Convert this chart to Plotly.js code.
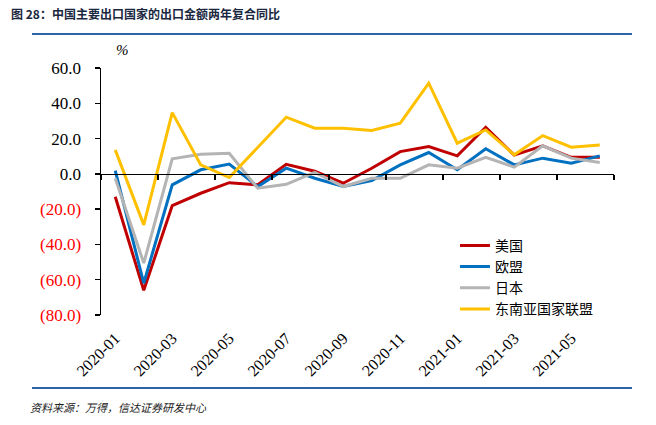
<!DOCTYPE html>
<html><head><meta charset="utf-8">
<script src="https://cdn.plot.ly/plotly-3.0.1.min.js"></script>
<style>html,body{margin:0;padding:0;background:#fff}</style>
</head><body><div id="chart" style="width:656px;height:425px"></div>
<script>
const months = ['2020-01','2020-02','2020-03','2020-04','2020-05','2020-06','2020-07','2020-08','2020-09','2020-10','2020-11','2020-12','2021-01','2021-02','2021-03','2021-04','2021-05','2021-06'];
const usa   = [-13.0,-66.0,-18.0,-11.0,-5.0,-6.2,5.4,1.5,-5.3,3.2,12.6,15.5,10.2,26.4,10.6,15.9,9.4,9.4];
const eu    = [1.9,-62.0,-6.2,2.3,5.5,-7.2,3.2,-2.5,-7.2,-3.8,5.1,12.1,2.3,14.2,5.1,8.9,6.0,10.2];
const japan = [-2.5,-50.6,8.5,11.1,11.7,-8.1,-5.9,0.8,-7.2,-2.5,-2.5,5.1,3.2,9.4,3.8,15.9,8.9,6.4];
const asean = [13.6,-28.9,34.7,5.1,-2.1,15.1,32.1,25.9,25.9,24.6,28.7,51.4,17.4,24.9,10.8,21.7,15.1,16.4];
const seriesNames = ['美国','欧盟','日本','东南亚国家联盟'];
const seriesColors = ['#C00000','#0070C0','#B4B4B4','#FFC000'];
const yTickVals = [60,40,20,0,-20,-40,-60,-80];
const yTickText = yTickVals.map(v => v < 0 ? '<span style="color:#FF0000">(' + Math.abs(v).toFixed(1) + ')</span>' : v.toFixed(1));
const boundaryTicks = [-0.5,1.5,3.5,5.5,7.5,9.5,11.5,13.5,15.5,17.5];

const serif = 'Liberation Serif';
const cjk = 'Noto Sans CJK SC';
const data = [usa, eu, japan, asean].map((vals, i) => ({
  x: months, y: vals, type: 'scatter', mode: 'lines', name: seriesNames[i],
  line: {color: seriesColors[i], width: 3}
}));
data.push({x: [-0.5, 17.5], y: [null, null], xaxis: 'x2', yaxis: 'y', showlegend: false, hoverinfo: 'skip', mode: 'lines'});

const yr = [-80, 60];
const zeroPos = (0 - yr[0]) / (yr[1] - yr[0]);
const layout = {
  width: 656, height: 425,
  margin: {l: 101, r: 42, t: 68, b: 110},
  paper_bgcolor: '#fff', plot_bgcolor: '#fff',
  showlegend: true,
  legend: {x: 0.69, y: 0.345, xanchor: 'left', yanchor: 'top', font: {family: cjk, size: 14, color: '#000'},
           bgcolor: 'rgba(0,0,0,0)', tracegroupgap: 0, itemwidth: 30},
  title: {text: '<b>图 28：中国主要出口国家的出口金额两年复合同比</b>', x: 11/656, xanchor: 'left', xref: 'container',
          y: 1 - 15/425, yanchor: 'middle', yref: 'container', font: {family: cjk, size: 12, color: '#1A2740'}},
  xaxis: {type: 'category', range: [-0.5, 17.5], dtick: 2, tickangle: -45, showline: false, ticks: '',
          ticklabelstandoff: 10,
          showgrid: false, zeroline: false, tickfont: {family: serif, size: 16, color: '#000'}},
  xaxis2: {overlaying: 'x', anchor: 'free', position: zeroPos, type: 'linear', range: [-0.5, 17.5],
           tickvals: boundaryTicks, ticks: 'outside', ticklen: 5, tickwidth: 1.5, tickcolor: '#000',
           showticklabels: false, showline: true, linecolor: '#000', linewidth: 1.5, showgrid: false, zeroline: false},
  yaxis: {range: yr, tickvals: yTickVals, ticktext: yTickText, ticks: 'outside', ticklen: 5, tickwidth: 1.5,
          tickcolor: '#000', showline: true, linecolor: '#000', linewidth: 1.5, showgrid: false, zeroline: false,
          ticklabelstandoff: 10,
          tickfont: {family: serif, size: 17, color: '#000'}},
  shapes: [
    {type: 'line', xref: 'paper', yref: 'paper', x0: (32-101)/513, x1: (632-101)/513, y0: (315-34)/247, y1: (315-34)/247,
     line: {color: '#2E64A6', width: 2}},
    {type: 'line', xref: 'paper', yref: 'paper', x0: (32-101)/513, x1: (632-101)/513, y0: (315-388)/247, y1: (315-388)/247,
     line: {color: '#2E64A6', width: 2}}
  ],
  annotations: [
    {text: '<i>%</i>', xref: 'paper', yref: 'paper', x: (122-101)/513, y: (315-50)/247, showarrow: false,
     xanchor: 'center', yanchor: 'middle', font: {family: serif, size: 15, color: '#000'}},
    {text: '<i>资料来源：万得，信达证券研发中心</i>', xref: 'paper', yref: 'paper', x: (28-101)/513, y: (315-407)/247,
     showarrow: false, xanchor: 'left', yanchor: 'middle', font: {family: cjk, size: 11, color: '#222'}}
  ]
};
Plotly.newPlot('chart', data, layout, {displayModeBar: false, staticPlot: true});
</script></body></html>
